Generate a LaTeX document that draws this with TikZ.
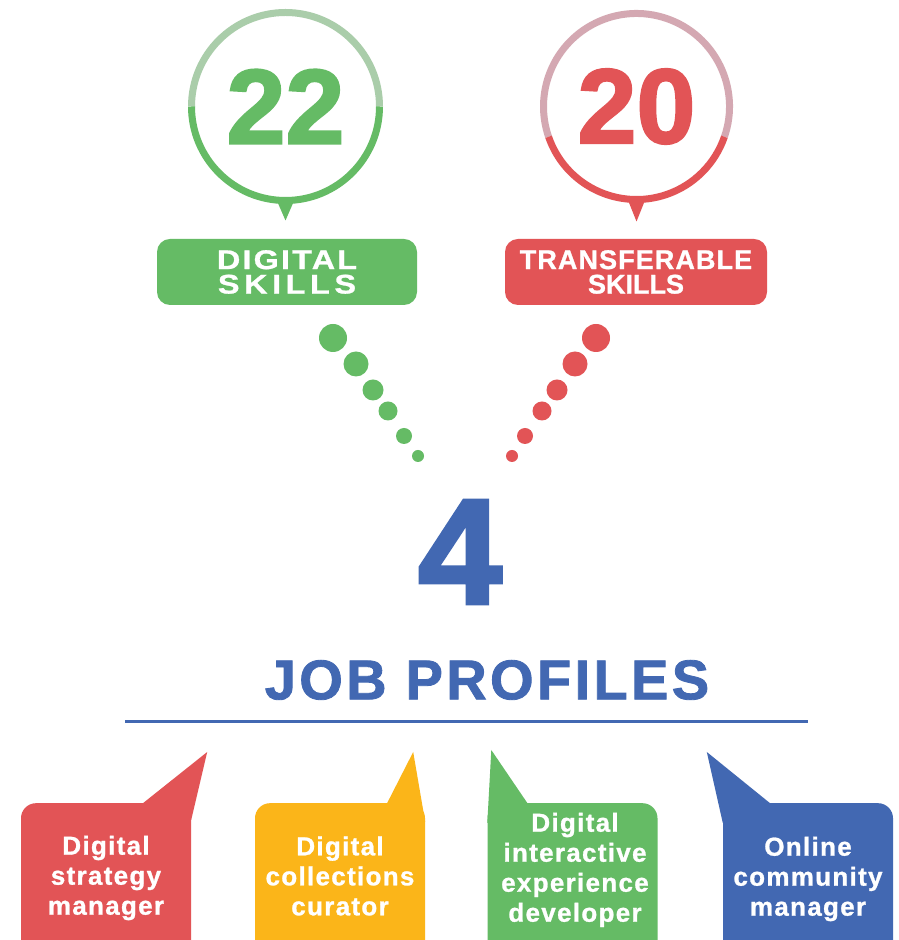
\documentclass[tikz,border=0pt]{standalone}
\usepackage{fontspec}
\setmainfont{Liberation Sans}
\usetikzlibrary{positioning,calc}
\definecolor{skillgreen}{HTML}{65BB65}
\definecolor{palegreen}{HTML}{AACDAA}
\definecolor{skillred}{HTML}{E25456}
\definecolor{palered}{HTML}{D4A8B2}
\definecolor{jobyellow}{HTML}{FBB519}
\definecolor{jobblue}{HTML}{4268B2}

\begin{document}
\begin{tikzpicture}[x=1pt, y=1pt,
  ring/.style={line width=7pt},
  count/.style={font=\fontsize{106}{106}\selectfont\bfseries\addfontfeature{FakeBold=2}},
  tag/.style={rectangle, rounded corners=13pt, minimum width=260pt, minimum height=66pt, text=white, align=center, font=\fontsize{27}{24.5}\selectfont\bfseries\addfontfeature{FakeBold=1}},
  jobbox/.style={rectangle, rounded corners=15pt, anchor=north, minimum width=170pt, minimum height=170pt},
  jobtext/.style={text=white, align=center, font=\fontsize{26}{30}\selectfont\bfseries\addfontfeature{LetterSpace=5,FakeBold=1}}
]
\path[use as bounding box, clip] (0,0) rectangle (899,940);
\fill[white] (0,0) rectangle (899,940);

\node[count, text=skillgreen] (n22) at (285.5,833.5) {22};
\draw[ring, palegreen] ($(n22)+(94,0)$) arc[start angle=0, end angle=180, radius=94];
\draw[ring, skillgreen] ($(n22)+(-94,0)$) arc[start angle=180, end angle=360, radius=94];
\fill[skillgreen] ($(n22)+(-10,-91)$) -- ($(n22)+(10,-91)$) -- ($(n22)+(0,-114)$) -- cycle;

\node[count, text=skillred] (n20) at (636.5,833.5) {20};
\draw[ring, palered] ($(n20)+(-19:93)$) arc[start angle=-19, end angle=199, radius=93];
\draw[ring, skillred] ($(n20)+(199:93)$) arc[start angle=199, end angle=341, radius=93];
\fill[skillred] ($(n20)+(-10,-90)$) -- ($(n20)+(10,-90)$) -- ($(n20)+(0,-115)$) -- cycle;

\node[tag, fill=skillgreen] (dig) at (287,668) {{\addfontfeature{FakeStretch=1.2,LetterSpace=8}DIGITAL}\\{\addfontfeature{FakeStretch=1.2,LetterSpace=17}SKILLS}};
\node[tag, fill=skillred, minimum width=262pt] (tra) at (636,668) {{\addfontfeature{LetterSpace=4}TRANSFERABLE}\\SKILLS};

\fill[skillgreen] (333,602) circle (14) (356,576) circle (12.5) (373,550) circle (10.5)
  (388,529) circle (9.5) (404,504) circle (8) (418,484) circle (6);
\fill[skillred] (596,602) circle (14) (575,576) circle (12.5) (557,550) circle (10.5)
  (542,529) circle (9.5) (525,504) circle (8) (512,484) circle (6);

\node[font=\fontsize{150}{150}\selectfont\bfseries\addfontfeature{FakeBold=2.5}, text=jobblue] (four) at (460,388) {4};
\node[font=\fontsize{56}{56}\selectfont\bfseries\addfontfeature{LetterSpace=6,FakeBold=1.5}, text=jobblue] (title) at (487,260) {JOB PROFILES};
\draw[jobblue, line width=3pt] (125,218) -- (808,218);

\node[jobbox, fill=skillred] (b1) at (106,137) {};
\fill[skillred] ($(b1.north east)+(-48,0)$) -- ++(64,51) -- ($(b1.north east)+(0,-17)$) -- ++(-17,0) -- ++(0,17) -- cycle;
\node[jobtext] (t1) at (106,62) {Digital\\strategy\\manager};

\node[jobbox, fill=jobyellow] (b2) at (340,137) {};
\fill[jobyellow] ($(b2.north east)+(-38,0)$) -- ++(26,51) -- ($(b2.north east)+(0,-19)$) -- ++(-17,0) -- ++(0,19) -- cycle;
\node[jobtext] (t2) at (340,64) {Digital\\collections\\curator};

\node[jobbox, fill=skillgreen] (b3) at (572.5,137) {};
\fill[skillgreen] ($(b3.north west)+(40,0)$) -- ++(-36,53) -- ($(b3.north west)+(0,-20)$) -- ++(17,0) -- ++(0,20) -- cycle;
\node[jobtext] (t3) at (575,70) {Digital\\interactive\\experience\\developer};

\node[jobbox, fill=jobblue] (b4) at (808,137) {};
\fill[jobblue] ($(b4.north west)+(47,0)$) -- ++(-63,51) -- ($(b4.north west)+(0,-20)$) -- ++(17,0) -- ++(0,20) -- cycle;
\node[jobtext] (t4) at (808,61) {Online\\community\\manager};
\end{tikzpicture}
\end{document}
